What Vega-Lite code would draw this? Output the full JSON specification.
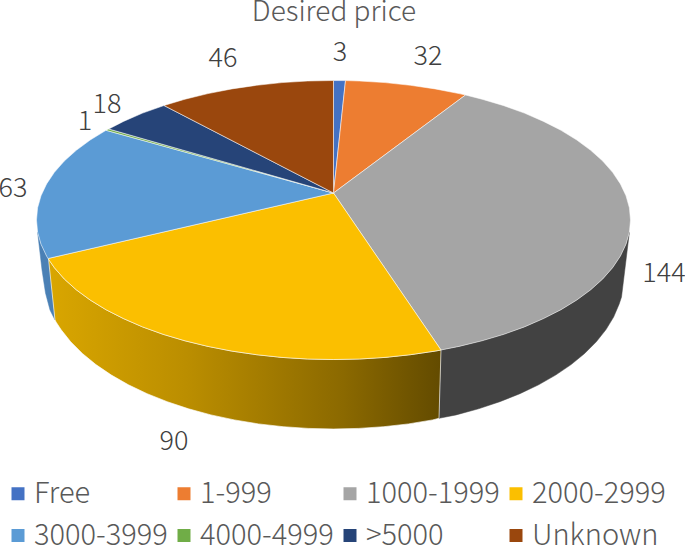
{"$schema":"https://vega.github.io/schema/vega-lite/v6.json","width":685,"height":546,"padding":0,"autosize":"none","background":"white",
"title":{"text":"Desired price","font":"Noto Sans CJK JP","fontWeight":300,"fontSize":28,"color":"#595959","anchor":"middle","offset":-26.5,"dx":-8.5},
"config":{"view":{"stroke":null}},
"encoding":{"x":{"field":"x","type":"quantitative","scale":{"domain":[0,685],"nice":false,"zero":false},"axis":null},"y":{"field":"y","type":"quantitative","scale":{"domain":[546,0],"nice":false,"zero":false},"axis":null}},
"layer":[
{"data":{"values":[{"i":1,"x":629.4,"y":232.2},{"i":2,"x":626,"y":244.2},{"i":3,"x":620.4,"y":256.1},{"i":4,"x":612.6,"y":267.7},{"i":5,"x":602.7,"y":279},{"i":6,"x":590.7,"y":289.8},{"i":7,"x":576.8,"y":300},{"i":8,"x":561,"y":309.7},{"i":9,"x":543.5,"y":318.6},{"i":10,"x":524.4,"y":326.9},{"i":11,"x":503.9,"y":334.3},{"i":12,"x":482,"y":340.8},{"i":13,"x":459,"y":346.4},{"i":14,"x":441,"y":350},{"i":15,"x":439,"y":418.3},{"i":16,"x":456.1,"y":414.9},{"i":17,"x":478.5,"y":408.8},{"i":18,"x":499.8,"y":401.7},{"i":19,"x":519.9,"y":393.7},{"i":20,"x":538.6,"y":384.8},{"i":21,"x":555.6,"y":375.1},{"i":22,"x":571.1,"y":364.6},{"i":23,"x":584.6,"y":353.5},{"i":24,"x":596.3,"y":341.8},{"i":25,"x":606,"y":329.6},{"i":26,"x":613.6,"y":317.1},{"i":27,"x":619.1,"y":304.2},{"i":28,"x":621.5,"y":297},{"i":29,"x":629.4,"y":232.2}]},
"mark":{"type":"line","fill":"#424242","stroke":"#424242","strokeWidth":0.5},"encoding":{"order":{"field":"i","type":"quantitative"}}},
{"data":{"values":[{"i":1,"x":37.6,"y":232.2},{"i":2,"x":41,"y":244.2},{"i":3,"x":46.6,"y":256.1},{"i":4,"x":49,"y":259},{"i":5,"x":55,"y":320},{"i":6,"x":50,"y":310},{"i":7,"x":45.5,"y":293},{"i":8,"x":42,"y":270},{"i":9,"x":37.6,"y":232.2}]},
"mark":{"type":"line","fill":"#4a80b5","stroke":"#4a80b5","strokeWidth":0.5},"encoding":{"order":{"field":"i","type":"quantitative"}}},
{"data":{"values":[{"i":1,"x":441,"y":350},{"i":2,"x":435.1,"y":351.1},{"i":3,"x":410.4,"y":354.7},{"i":4,"x":385.1,"y":357.4},{"i":5,"x":359.4,"y":359},{"i":6,"x":333.5,"y":359.5},{"i":7,"x":307.6,"y":359},{"i":8,"x":281.9,"y":357.4},{"i":9,"x":256.6,"y":354.7},{"i":10,"x":231.9,"y":351.1},{"i":11,"x":208,"y":346.4},{"i":12,"x":185,"y":340.8},{"i":13,"x":163.1,"y":334.3},{"i":14,"x":142.6,"y":326.9},{"i":15,"x":123.5,"y":318.6},{"i":16,"x":106,"y":309.7},{"i":17,"x":90.2,"y":300},{"i":18,"x":76.3,"y":289.8},{"i":19,"x":64.3,"y":279},{"i":20,"x":54.4,"y":267.7},{"i":21,"x":48.5,"y":259},{"i":22,"x":55,"y":320},{"i":23,"x":56.2,"y":322.2},{"i":24,"x":61,"y":329.6},{"i":25,"x":70.7,"y":341.8},{"i":26,"x":82.4,"y":353.5},{"i":27,"x":95.9,"y":364.6},{"i":28,"x":111.4,"y":375.1},{"i":29,"x":128.4,"y":384.8},{"i":30,"x":147.1,"y":393.7},{"i":31,"x":167.2,"y":401.7},{"i":32,"x":188.5,"y":408.8},{"i":33,"x":210.9,"y":414.9},{"i":34,"x":234.3,"y":419.9},{"i":35,"x":258.4,"y":423.9},{"i":36,"x":283.2,"y":426.7},{"i":37,"x":308.2,"y":428.4},{"i":38,"x":333.5,"y":429},{"i":39,"x":358.8,"y":428.4},{"i":40,"x":383.8,"y":426.7},{"i":41,"x":408.6,"y":423.9},{"i":42,"x":432.7,"y":419.9},{"i":43,"x":439,"y":418.3},{"i":44,"x":441,"y":350}]},
"mark":{"type":"line","fill":{"gradient":"linear","x1":0,"y1":0,"x2":1,"y2":0,"stops":[{"offset":0,"color":"#d9a600"},{"offset":0.35,"color":"#bb8e00"},{"offset":0.75,"color":"#8b6900"},{"offset":1,"color":"#634b00"}]},"stroke":"#ffffff","strokeWidth":0.8,"strokeOpacity":0.8},"encoding":{"order":{"field":"i","type":"quantitative"}}},
{"data":{"values":[
{"slice":"Free","i":0,"x":333.5,"y":193},{"slice":"Free","i":1,"x":333.5,"y":80.5},{"slice":"Free","i":2,"x":345.5,"y":80.6},{"slice":"Free","i":3,"x":333.5,"y":193},
{"slice":"1-999","i":0,"x":333.5,"y":193},{"slice":"1-999","i":1,"x":345.5,"y":80.6},{"slice":"1-999","i":2,"x":359.4,"y":81},{"slice":"1-999","i":3,"x":385.1,"y":82.6},{"slice":"1-999","i":4,"x":410.4,"y":85.3},{"slice":"1-999","i":5,"x":435.1,"y":88.9},{"slice":"1-999","i":6,"x":459,"y":93.6},{"slice":"1-999","i":7,"x":465.5,"y":95},{"slice":"1-999","i":8,"x":333.5,"y":193},
{"slice":"1000-1999","i":0,"x":333.5,"y":193},{"slice":"1000-1999","i":1,"x":465.5,"y":95},{"slice":"1000-1999","i":2,"x":482,"y":99.2},{"slice":"1000-1999","i":3,"x":503.9,"y":105.7},{"slice":"1000-1999","i":4,"x":524.4,"y":113.1},{"slice":"1000-1999","i":5,"x":543.5,"y":121.4},{"slice":"1000-1999","i":6,"x":561,"y":130.3},{"slice":"1000-1999","i":7,"x":576.8,"y":140},{"slice":"1000-1999","i":8,"x":590.7,"y":150.3},{"slice":"1000-1999","i":9,"x":602.7,"y":161},{"slice":"1000-1999","i":10,"x":612.6,"y":172.3},{"slice":"1000-1999","i":11,"x":620.4,"y":183.9},{"slice":"1000-1999","i":12,"x":626,"y":195.8},{"slice":"1000-1999","i":13,"x":629.4,"y":207.8},{"slice":"1000-1999","i":14,"x":630.5,"y":220},{"slice":"1000-1999","i":15,"x":629.4,"y":232.2},{"slice":"1000-1999","i":16,"x":626,"y":244.2},{"slice":"1000-1999","i":17,"x":620.4,"y":256.1},{"slice":"1000-1999","i":18,"x":612.6,"y":267.7},{"slice":"1000-1999","i":19,"x":602.7,"y":279},{"slice":"1000-1999","i":20,"x":590.7,"y":289.8},{"slice":"1000-1999","i":21,"x":576.8,"y":300},{"slice":"1000-1999","i":22,"x":561,"y":309.7},{"slice":"1000-1999","i":23,"x":543.5,"y":318.6},{"slice":"1000-1999","i":24,"x":524.4,"y":326.9},{"slice":"1000-1999","i":25,"x":503.9,"y":334.3},{"slice":"1000-1999","i":26,"x":482,"y":340.8},{"slice":"1000-1999","i":27,"x":459,"y":346.4},{"slice":"1000-1999","i":28,"x":441,"y":350},{"slice":"1000-1999","i":29,"x":333.5,"y":193},
{"slice":"2000-2999","i":0,"x":333.5,"y":193},{"slice":"2000-2999","i":1,"x":441,"y":350},{"slice":"2000-2999","i":2,"x":435.1,"y":351.1},{"slice":"2000-2999","i":3,"x":410.4,"y":354.7},{"slice":"2000-2999","i":4,"x":385.1,"y":357.4},{"slice":"2000-2999","i":5,"x":359.4,"y":359},{"slice":"2000-2999","i":6,"x":333.5,"y":359.5},{"slice":"2000-2999","i":7,"x":307.6,"y":359},{"slice":"2000-2999","i":8,"x":281.9,"y":357.4},{"slice":"2000-2999","i":9,"x":256.6,"y":354.7},{"slice":"2000-2999","i":10,"x":231.9,"y":351.1},{"slice":"2000-2999","i":11,"x":208,"y":346.4},{"slice":"2000-2999","i":12,"x":185,"y":340.8},{"slice":"2000-2999","i":13,"x":163.1,"y":334.3},{"slice":"2000-2999","i":14,"x":142.6,"y":326.9},{"slice":"2000-2999","i":15,"x":123.5,"y":318.6},{"slice":"2000-2999","i":16,"x":106,"y":309.7},{"slice":"2000-2999","i":17,"x":90.2,"y":300},{"slice":"2000-2999","i":18,"x":76.3,"y":289.8},{"slice":"2000-2999","i":19,"x":64.3,"y":279},{"slice":"2000-2999","i":20,"x":54.4,"y":267.7},{"slice":"2000-2999","i":21,"x":48,"y":258.5},{"slice":"2000-2999","i":22,"x":333.5,"y":193},
{"slice":"3000-3999","i":0,"x":333.5,"y":193},{"slice":"3000-3999","i":1,"x":48,"y":258.5},{"slice":"3000-3999","i":2,"x":46.6,"y":256.1},{"slice":"3000-3999","i":3,"x":41,"y":244.2},{"slice":"3000-3999","i":4,"x":37.6,"y":232.2},{"slice":"3000-3999","i":5,"x":36.5,"y":220},{"slice":"3000-3999","i":6,"x":37.6,"y":207.8},{"slice":"3000-3999","i":7,"x":41,"y":195.8},{"slice":"3000-3999","i":8,"x":46.6,"y":183.9},{"slice":"3000-3999","i":9,"x":54.4,"y":172.3},{"slice":"3000-3999","i":10,"x":64.3,"y":161},{"slice":"3000-3999","i":11,"x":76.3,"y":150.3},{"slice":"3000-3999","i":12,"x":90.2,"y":140},{"slice":"3000-3999","i":13,"x":106,"y":130.3},{"slice":"3000-3999","i":14,"x":333.5,"y":193},
{"slice":"4000-4999","i":0,"x":333.5,"y":193},{"slice":"4000-4999","i":1,"x":106,"y":130.3},{"slice":"4000-4999","i":2,"x":108.8,"y":129},{"slice":"4000-4999","i":3,"x":333.5,"y":193},
{"slice":">5000","i":0,"x":333.5,"y":193},{"slice":">5000","i":1,"x":108.8,"y":129},{"slice":">5000","i":2,"x":123.5,"y":121.4},{"slice":">5000","i":3,"x":142.6,"y":113.1},{"slice":">5000","i":4,"x":164,"y":105.5},{"slice":">5000","i":5,"x":333.5,"y":193},
{"slice":"Unknown","i":0,"x":333.5,"y":193},{"slice":"Unknown","i":1,"x":164,"y":105.5},{"slice":"Unknown","i":2,"x":185,"y":99.2},{"slice":"Unknown","i":3,"x":208,"y":93.6},{"slice":"Unknown","i":4,"x":231.9,"y":88.9},{"slice":"Unknown","i":5,"x":256.6,"y":85.3},{"slice":"Unknown","i":6,"x":281.9,"y":82.6},{"slice":"Unknown","i":7,"x":307.6,"y":81},{"slice":"Unknown","i":8,"x":333.5,"y":80.5},{"slice":"Unknown","i":9,"x":333.5,"y":193}
]},
"mark":{"type":"line","stroke":"#ffffff","strokeWidth":0.7,"strokeOpacity":0.75},
"encoding":{"order":{"field":"i","type":"quantitative"},"detail":{"field":"slice"},
"fill":{"field":"slice","type":"nominal","title":null,"sort":["Free","1-999","1000-1999","2000-2999","3000-3999","4000-4999",">5000","Unknown"],
"scale":{"domain":["Free","1-999","1000-1999","2000-2999","3000-3999","4000-4999",">5000","Unknown"],"range":["#4472c4","#ed7d31","#a5a5a5","#fbbf00","#5b9bd5","#70ad47","#264478","#9a470d"]},
"legend":{"orient":"none","direction":"horizontal","legendX":3.5,"legendY":479,"columns":4,"gridAlign":"all","columnPadding":1,"rowPadding":12,"padding":0,"symbolType":"square","symbolSize":169,"symbolStrokeWidth":0,"symbolOffset":0,"labelOffset":1.5,"labelFont":"Noto Sans CJK JP","labelFontWeight":300,"labelFontSize":29,"labelColor":"#595959","labelLimit":200}}}},
{"data":{"values":[{"slice":"Free","count":3,"x":340,"y":52},{"slice":"1-999","count":32,"x":428,"y":56},{"slice":"1000-1999","count":144,"x":664,"y":273},{"slice":"2000-2999","count":90,"x":174,"y":441},{"slice":"3000-3999","count":63,"x":13,"y":188},{"slice":"4000-4999","count":1,"x":85,"y":121},{"slice":">5000","count":18,"x":107,"y":104},{"slice":"Unknown","count":46,"x":223,"y":58}]},
"mark":{"type":"text","font":"Noto Sans CJK JP","fontWeight":300,"fontSize":27,"color":"#404040","align":"center","baseline":"middle","dy":1},
"encoding":{"text":{"field":"count","type":"quantitative"}}}
]}
